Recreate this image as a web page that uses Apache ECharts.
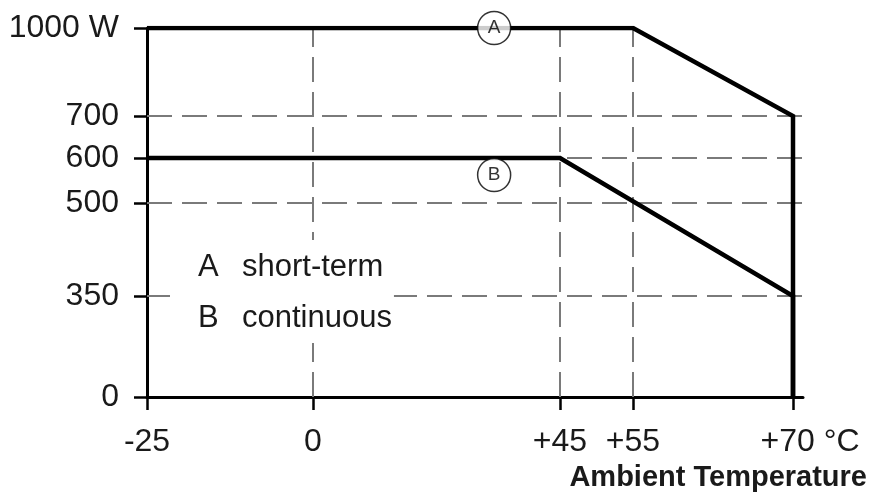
<!DOCTYPE html>
<html><head><meta charset="utf-8">
<script src="https://cdn.jsdelivr.net/npm/echarts@6/dist/echarts.min.js"></script>
<style>html,body{margin:0;padding:0;background:#fff}#c{width:886px;height:497px}</style>
</head><body><div id="c"></div>
<script>
// ---- data ----
const tempTicks = [-25, 0, 45, 55, 70];
const tempTickLabels = ['-25', '0', '+45', '+55', '+70 °C'];
const powerTicks = [0, 350, 500, 600, 700, 1000];
const powerTickLabels = ['0', '350', '500', '600', '700', '1000 W'];
const tempA = [-25, 55, 70, 70];
const powerA = [1000, 1000, 700, 0];
const tempB = [-25, 45, 70, 70];
const powerB = [600, 600, 350, 0];
const seriesNames = ['A', 'B'];
const seriesDescriptions = ['short-term', 'continuous'];
const markerTemp = 33;
const gridTemps = [0, 45, 55];
const gridPowers = [350, 500, 600, 700];
const axisTitle = 'Ambient Temperature';

// ---- schematic (non-linear) axis layout: screen distance of each tick from the origin ----
const X_POS = [0, 166, 413, 486, 646];
const Y_POS = [0, 101, 194, 239, 281, 369];
const X_MAX = 656, Y_MAX = 369;

function piece(v, ticks, pos) {
  for (let i = 0; i < ticks.length - 1; i++) {
    if (v <= ticks[i + 1] || i === ticks.length - 2) {
      const t = (v - ticks[i]) / (ticks[i + 1] - ticks[i]);
      return pos[i] + t * (pos[i + 1] - pos[i]);
    }
  }
}
const X = v => piece(v, tempTicks, X_POS);
const Y = v => piece(v, powerTicks, Y_POS);
const xTickVals = tempTicks.map(X);
const yTickVals = powerTicks.map(Y);
const findIdx = (arr, v) => arr.findIndex(p => Math.abs(p - v) < 0.5);

const FONT = "'Liberation Sans', Arial, sans-serif";
const TXT = '#1a1a1a';

const markerStyle = { color: '#fff', borderColor: '#000', borderWidth: 1.5 };
const markerLabel = name => ({ show: true, position: 'inside', color: '#000', fontFamily: FONT, fontSize: 19, formatter: name });

const chart = echarts.init(document.getElementById('c'));
chart.setOption({
  animation: false,
  backgroundColor: '#fff',
  textStyle: { fontFamily: FONT },
  grid: { left: 147, right: 83, top: 28, bottom: 100, containLabel: false },
  legend: {
    orient: 'vertical', left: 170, top: 240,
    icon: 'none', itemWidth: 0, itemHeight: 30, itemGap: 20,
    selectedMode: false, z: 6,
    backgroundColor: '#fff', padding: [12, 2, 9, 23],
    data: seriesNames,
    formatter: name => '{k|' + name + '}{t|' + seriesDescriptions[seriesNames.indexOf(name)] + '}',
    textStyle: {
      fontFamily: FONT, fontSize: 31, color: TXT,
      rich: {
        k: { fontFamily: FONT, fontSize: 31, color: TXT, width: 44 },
        t: { fontFamily: FONT, fontSize: 31, color: TXT }
      }
    }
  },
  xAxis: {
    type: 'value', min: 0, max: X_MAX,
    name: axisTitle, nameLocation: 'end', nameGap: 64,
    nameTextStyle: { fontFamily: FONT, fontSize: 29, fontWeight: 'bold', color: TXT, align: 'right', verticalAlign: 'top', padding: [66, 0, 0, 0] },
    axisLine: { show: true, onZero: false, lineStyle: { color: '#000', width: 3 } },
    axisTick: { show: true, customValues: xTickVals, length: 13, lineStyle: { color: '#000', width: 2.5 } },
    axisLabel: {
      show: true, customValues: xTickVals, margin: 29,
      fontFamily: FONT, fontSize: 32, color: TXT,
      formatter: v => {
        const i = findIdx(xTickVals, v);
        if (i < 0) return '';
        return i === tempTicks.length - 1 ? '{u|' + tempTickLabels[i] + '}' : tempTickLabels[i];
      },
      rich: { u: { fontFamily: FONT, fontSize: 32, color: TXT, padding: [0, 0, 0, 34] } }
    },
    splitLine: { show: false }
  },
  yAxis: {
    type: 'value', min: 0, max: Y_MAX,
    axisLine: { show: true, onZero: false, lineStyle: { color: '#000', width: 3 } },
    axisTick: { show: true, customValues: yTickVals, length: 13, lineStyle: { color: '#000', width: 2.5 } },
    axisLabel: {
      show: true, customValues: yTickVals, margin: 28,
      fontFamily: FONT, fontSize: 32, color: TXT,
      formatter: v => { const i = findIdx(yTickVals, v); return i < 0 ? '' : powerTickLabels[i]; }
    },
    splitLine: { show: false }
  },
  series: [
    {
      name: 'grid', type: 'line', data: [], z: 1, silent: true,
      markLine: {
        silent: true, symbol: ['none', 'none'], label: { show: false },
        lineStyle: { color: '#7a7a7a', width: 2, type: [25, 10] },
        data: gridTemps.map(t => ({ xAxis: X(t) })).concat(gridPowers.map(p => ({ yAxis: Y(p) })))
      }
    },
    {
      name: seriesNames[0], type: 'line', z: 5, silent: true, symbol: 'none',
      data: tempA.map((t, i) => [X(t), Y(powerA[i])]),
      lineStyle: { color: '#000', width: 4.5, join: 'miter' }
    },
    {
      name: seriesNames[1], type: 'line', z: 5, silent: true, symbol: 'none',
      data: tempB.map((t, i) => [X(t), Y(powerB[i])]),
      lineStyle: { color: '#000', width: 4.5, join: 'miter' }
    },
    {
      name: 'markerA', type: 'scatter', z: 10, silent: true,
      symbol: 'circle', symbolSize: 33, itemStyle: markerStyle, label: markerLabel(seriesNames[0]),
      data: [[X(markerTemp), Y(powerA[0])]]
    },
    {
      name: 'markerB', type: 'scatter', z: 10, silent: true,
      symbol: 'circle', symbolSize: 33, symbolOffset: [0, 17], itemStyle: markerStyle, label: markerLabel(seriesNames[1]),
      data: [[X(markerTemp), Y(powerB[0])]]
    }
  ]
});
</script></body></html>
